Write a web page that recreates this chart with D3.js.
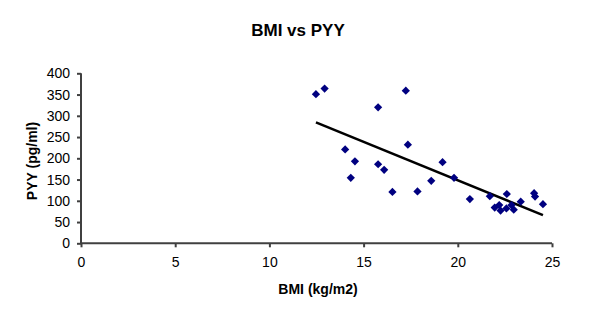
<!DOCTYPE html>
<html><head><meta charset="utf-8">
<script src="https://cdn.jsdelivr.net/npm/d3@7"></script>
<style>body{margin:0;background:#fff}svg{display:block}text{font-family:"Liberation Sans",Arial,sans-serif}</style>
</head><body><svg id="c" width="600" height="326"></svg>
<script>
const bmi = [12.47,12.93,15.77,17.24,14.02,14.54,14.32,15.77,16.09,16.53,17.35,17.86,18.59,19.19,19.8,20.64,21.7,22.6,21.96,22.2,22.27,22.58,22.85,22.97,23.34,24.05,24.1,24.52];
const pyy = [351,364,320,359,221,193,154,186,173,121,232,122,147,191,154,104,111,116,84,90,77,82,90,79,98,118,110,92];
const xTicks = [0,5,10,15,20,25];
const yTicks = [0,50,100,150,200,250,300,350,400];
const title = "BMI vs PYY", xTitle = "BMI (kg/m2)", yTitle = "PYY (pg/ml)";

const svg = d3.select("#c");
const x = d3.scaleLinear().domain([0,25]).range([81,552]);
const y = d3.scaleLinear().domain([0,400]).range([243.3,73.3]);

svg.append("text").attr("x",298).attr("y",36).attr("text-anchor","middle")
  .attr("font-size",17).attr("font-weight","bold").text(title);

const xa = svg.append("g").attr("transform","translate(0,243.3)")
  .call(d3.axisBottom(x).tickValues(xTicks).tickSize(4).tickPadding(10));
const ya = svg.append("g").attr("transform","translate(81,0)")
  .call(d3.axisLeft(y).tickValues(yTicks).tickSize(4).tickPadding(7));
[xa,ya].forEach(a=>{
  a.select(".domain").attr("stroke","#404040").attr("stroke-width",2);
  a.selectAll(".tick line").attr("stroke","#404040").attr("stroke-width",2);
  a.selectAll("text").attr("font-size",14).attr("fill","#000").attr("font-family","Liberation Sans, Arial, sans-serif");
});
xa.select(".domain").attr("d",`M${x(0)},0H${x(25)}`);
ya.select(".domain").attr("d",`M0,${y(0)}V${y(400)}`);

svg.append("text").attr("x",318).attr("y",294).attr("text-anchor","middle")
  .attr("font-size",14).attr("font-weight","bold").text(xTitle);
svg.append("text").attr("transform","translate(37,161) rotate(-90)").attr("text-anchor","middle")
  .attr("font-size",14).attr("font-weight","bold").text(yTitle);

// linear trendline (least squares)
const n = bmi.length, mx = d3.mean(bmi), my = d3.mean(pyy);
let sxy=0,sxx=0; for(let i=0;i<n;i++){sxy+=(bmi[i]-mx)*(pyy[i]-my);sxx+=(bmi[i]-mx)**2;}
const b = sxy/sxx, a0 = my-b*mx;
const [x0,x1] = d3.extent(bmi);
svg.append("line").attr("x1",x(x0)).attr("y1",y(a0+b*x0)).attr("x2",x(x1)).attr("y2",y(a0+b*x1))
  .attr("stroke","#000").attr("stroke-width",2.5);

const sym = d3.symbol().type(d3.symbolSquare).size(34);
svg.append("g").selectAll("path").data(bmi).join("path")
  .attr("d",sym).attr("fill","#000080")
  .attr("transform",(d,i)=>`translate(${x(d)},${y(pyy[i])}) rotate(45)`);
</script></body></html>
